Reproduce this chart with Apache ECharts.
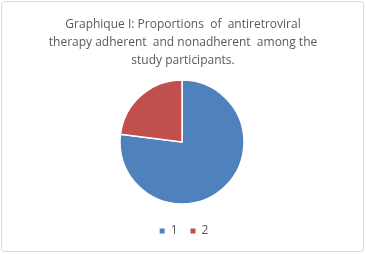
<!DOCTYPE html>
<html><head><meta charset="utf-8">
<script src="https://cdn.jsdelivr.net/npm/echarts@6/dist/echarts.min.js"></script>
<style>html,body{margin:0;padding:0;background:#fff}#c{width:366px;height:254px}</style>
</head><body><div id="c"></div>
<script>
const categories = ['1', '2'];
const values = [77, 23];
const colors = ['#4F81BD', '#C0504D'];
const titleText = 'Graphique I: Proportions  of  antiretroviral\ntherapy adherent  and nonadherent  among the\nstudy participants.';

const chart = echarts.init(document.getElementById('c'), null, {renderer: 'canvas'});
chart.setOption({
  animation: false,
  graphic: [{type: 'rect', shape: {x: 1.5, y: 1.5, width: 362, height: 250, r: 3},
    style: {fill: 'none', stroke: '#d9d9d9', lineWidth: 1}}],
  title: {text: titleText, left: 'center', top: 11,
    textStyle: {fontFamily: 'Open Sans', fontSize: 12, fontWeight: 'normal', color: '#595959', lineHeight: 18}},
  legend: {bottom: 12, left: 'center', itemWidth: 7, itemHeight: 7, itemGap: 11, icon: 'rect',
    textStyle: {fontFamily: 'Open Sans', fontSize: 12, color: '#595959', padding: [0, 0, 0, 0]},
    data: categories},
  series: [{type: 'pie', center: [182, 142], radius: 62, startAngle: 90, clockwise: true,
    label: {show: false}, labelLine: {show: false},
    itemStyle: {borderColor: '#fff', borderWidth: 1.5},
    data: categories.map((c, i) => ({name: c, value: values[i], itemStyle: {color: colors[i]}}))}]
});
</script></body></html>
